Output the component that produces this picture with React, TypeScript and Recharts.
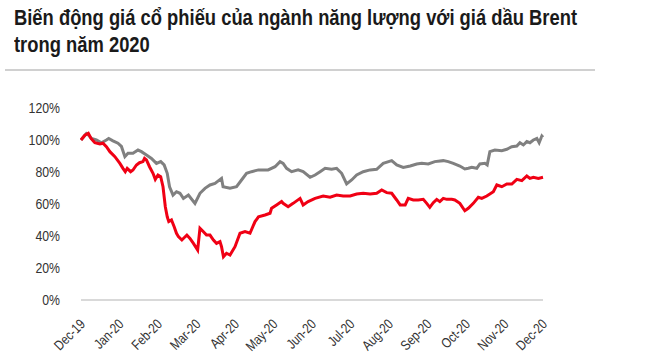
import { Line, LineChart, XAxis, YAxis } from "recharts";

const monthLabels = [
  "Dec-19", "Jan-20", "Feb-20", "Mar-20", "Apr-20", "May-20", "Jun-20",
  "Jul-20", "Aug-20", "Sep-20", "Oct-20", "Nov-20", "Dec-20",
];
const yTicks = [0, 20, 40, 60, 80, 100, 120];

// time in months since end of Dec-19, value in %
const grayT = [
  0, 0.14, 0.2, 0.27, 0.4, 0.53, 0.66, 0.72, 0.83, 0.96, 1.05, 1.14, 1.22, 1.35,
  1.48, 1.57, 1.7, 1.83, 1.96, 2.07, 2.16, 2.24, 2.3, 2.39, 2.48, 2.57, 2.66,
  2.79, 2.96, 3.09, 3.22, 3.35, 3.48, 3.65, 3.69, 3.87, 4.04, 4.17, 4.3, 4.43,
  4.61, 4.74, 4.86, 5.04, 5.17, 5.25, 5.34, 5.47, 5.64, 5.77, 5.95, 6.08, 6.21,
  6.34, 6.51, 6.64, 6.77, 6.9, 7.03, 7.16, 7.33, 7.51, 7.68, 7.85, 8.07, 8.2,
  8.37, 8.55, 8.72, 8.85, 9.02, 9.19, 9.41, 9.54, 9.67, 9.84, 9.97, 10.06,
  10.15, 10.28, 10.36, 10.49, 10.55, 10.62, 10.75, 10.93, 11.06, 11.19, 11.32,
  11.4, 11.49, 11.58, 11.66, 11.75, 11.84, 11.9, 11.97, 12,
];
const grayV = [
  100, 104, 103, 101, 100, 98.3, 100, 101, 99.5, 98, 96, 89.6, 91.7, 91.7,
  93.7, 92.7, 90.6, 88.5, 85.4, 86.5, 84.4, 79.2, 70.8, 65.6, 67.7, 66.7, 63.5,
  65.6, 60.4, 66.7, 69.8, 71.9, 72.9, 76, 70.8, 69.8, 70.8, 75, 79.2, 80.2,
  81.3, 81.3, 81.3, 83.3, 86.5, 85.4, 82.3, 80.2, 81.3, 80.2, 76.7, 78.1, 80.2,
  82.3, 81.7, 82.3, 79.2, 72.5, 75, 78.1, 80.2, 81.3, 81.7, 85.4, 87.1, 84.4,
  82.9, 83.75, 85, 85.4, 85, 86.5, 87.1, 86.5, 85.4, 83.75, 81.9, 82.3, 82.9,
  82.3, 85, 85.4, 84.4, 92.7, 93.75, 93.3, 94.2, 95.8, 96.25, 98.3, 96.9, 99,
  98.3, 100, 101, 98.3, 102.5, 101.7,
];

const redT = [
  0, 0.1, 0.19, 0.26, 0.36, 0.49, 0.57, 0.66, 0.75, 0.88, 1.01, 1.09, 1.15, 1.2,
  1.29, 1.35, 1.44, 1.52, 1.61, 1.65, 1.7, 1.78, 1.87, 1.93, 2, 2.07, 2.13,
  2.19, 2.24, 2.28, 2.35, 2.42, 2.48, 2.53, 2.62, 2.75, 2.83, 2.92, 3.03, 3.09,
  3.18, 3.26, 3.35, 3.44, 3.52, 3.61, 3.65, 3.7, 3.78, 3.87, 4, 4.13, 4.26,
  4.39, 4.52, 4.61, 4.78, 4.91, 4.95, 5.08, 5.21, 5.25, 5.38, 5.51, 5.69, 5.77,
  5.9, 6.08, 6.29, 6.47, 6.64, 6.81, 6.99, 7.16, 7.33, 7.51, 7.68, 7.81, 7.94,
  8.07, 8.2, 8.29, 8.42, 8.5, 8.63, 8.76, 8.89, 8.98, 9.06, 9.15, 9.24, 9.32,
  9.41, 9.5, 9.63, 9.71, 9.84, 9.97, 10.06, 10.19, 10.32, 10.41, 10.54, 10.71,
  10.8, 10.93, 11.06, 11.19, 11.32, 11.45, 11.58, 11.66, 11.75, 11.88, 12,
];
const redV = [
  100, 103, 104.2, 101, 98.3, 97.5, 98, 95.8, 92.7, 89.6, 85.4, 82.3, 80.2,
  82.3, 80.2, 81.25, 84.4, 85.8, 86.5, 88.5, 87.5, 83.3, 79.2, 75.4, 78.1, 77.1,
  70.8, 58.3, 52, 49, 50, 45.8, 41.7, 39.6, 37.5, 40.6, 38.5, 35.4, 31.25,
  44.8, 42.7, 40.6, 40.6, 37.5, 35.4, 36.5, 33.3, 27, 29.2, 28.1, 33.3, 41.7,
  42.7, 41.7, 49, 52, 53.1, 54.2, 57.3, 59.4, 61.5, 60.4, 58.3, 60.4, 63.5,
  59.4, 61.5, 63.5, 65, 64.2, 65.6, 65, 65, 66.25, 66.7, 66.25, 66.7, 68.75,
  67.1, 66.7, 62.5, 59.4, 59.4, 63.5, 62.5, 62.5, 62.9, 60.4, 57.9, 60.8, 62.9,
  61.5, 63.5, 62.9, 62.9, 62.5, 60.4, 55.8, 57.3, 60.4, 64.2, 63.5, 65, 67.7,
  71.9, 70.8, 72.5, 72.5, 75.4, 74.6, 77.5, 76, 76.7, 76, 76.7,
];

const grayData = grayT.map((t, i) => ({ t, v: grayV[i] }));
const redData = redT.map((t, i) => ({ t, v: redV[i] }));

const font = "'Liberation Sans', Arial, sans-serif";
const squeeze = 0.82;

const YTick = (props: any) => {
  const { x, y, payload } = props;
  return (
    <text
      transform={`translate(${x - 13}, ${y + 5}) scale(${squeeze}, 1)`}
      textAnchor="end"
      fontSize={15}
      fill="#333"
      fontFamily={font}
    >
      {payload.value}%
    </text>
  );
};

const XTick = (props: any) => {
  const { x, y, payload } = props;
  return (
    <text
      transform={`translate(${x + 5}, ${y + 17}) rotate(-45) scale(${squeeze}, 1)`}
      textAnchor="end"
      fontSize={14}
      fill="#333"
      fontFamily={font}
    >
      {monthLabels[payload.value]}
    </text>
  );
};

export default function App() {
  return (
    <div style={{ position: "absolute", left: 0, top: 0, width: 647, height: 363, background: "#fff" }}>
      <div
        style={{
          position: "absolute",
          left: 14,
          top: 4,
          fontFamily: font,
          fontWeight: "bold",
          fontSize: 22,
          lineHeight: "27px",
          color: "#1a1a1a",
          whiteSpace: "nowrap",
          transform: "scaleX(0.835)",
          transformOrigin: "0 0",
        }}
      >
        Biến động giá cổ phiếu của ngành năng lượng với giá dầu Brent
        <br />
        trong năm 2020
      </div>
      <div
        style={{
          position: "absolute",
          left: 5,
          top: 69,
          width: 590,
          height: 2,
          background: "#d0d0d0",
        }}
      />
      <div style={{ position: "absolute", left: 0, top: 0 }}>
        <LineChart width={647} height={363} margin={{ top: 108, right: 104, bottom: 0, left: 0 }}>
          <XAxis
            dataKey="t"
            type="number"
            domain={[0, 12]}
            ticks={monthLabels.map((_, i) => i)}
            tickLine={false}
            axisLine={{ stroke: "#d9d9d9", strokeWidth: 2 }}
            tick={<XTick />}
            interval={0}
            height={63}
          />
          <YAxis
            type="number"
            domain={[0, 120]}
            ticks={yTicks}
            interval={0}
            tickLine={false}
            axisLine={false}
            tick={<YTick />}
            width={81}
          />
          <Line
            data={grayData}
            dataKey="v"
            stroke="#808080"
            strokeWidth={3}
            dot={false}
            isAnimationActive={false}
          />
          <Line
            data={redData}
            dataKey="v"
            stroke="#f00014"
            strokeWidth={3}
            dot={false}
            isAnimationActive={false}
          />
        </LineChart>
      </div>
    </div>
  );
}
